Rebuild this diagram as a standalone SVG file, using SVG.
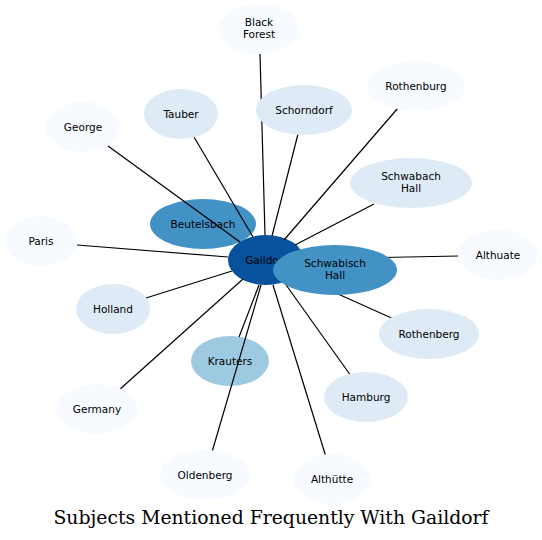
<svg xmlns="http://www.w3.org/2000/svg" width="542" height="540" viewBox="0 0 542 540">
<style>
.n text{font-family:"DejaVu Sans",sans-serif;font-size:10.5px;fill:#000;text-anchor:middle}
.c1 ellipse{fill:#f7fbff}
.c2 ellipse{fill:#deebf7}
.c3 ellipse{fill:#9ecae1}
.c4 ellipse{fill:#4292c6}
.c5 ellipse{fill:#08519c}
#edges line{stroke:#000;stroke-width:1.2}
.title{font-family:"DejaVu Serif",serif;font-size:18px;text-anchor:middle;fill:#000}
</style>
<rect width="542" height="540" fill="#fff"/>
<g id="n-beutelsbach" class="n c4"><ellipse cx="203" cy="224" rx="53" ry="25"/><text x="203" y="228">Beutelsbach</text></g>
<g id="n-krauters" class="n c3"><ellipse cx="230" cy="361" rx="39" ry="25"/><text x="230" y="365">Krauters</text></g>
<g id="n-gaildorf" class="n c5"><ellipse cx="266" cy="260" rx="38" ry="25"/><text x="266" y="264">Gaildorf</text></g>
<g id="edges">
<line x1="260" y1="54" x2="265" y2="235"/>
<line x1="298" y1="134" x2="272" y2="236"/>
<line x1="398" y1="108" x2="284" y2="240"/>
<line x1="194" y1="137" x2="253" y2="237"/>
<line x1="108" y1="146" x2="240" y2="242"/>
<line x1="374" y1="204" x2="295" y2="245"/>
<line x1="77" y1="245" x2="228" y2="257"/>
<line x1="459" y1="256" x2="304" y2="259"/>
<line x1="146" y1="298" x2="232" y2="271"/>
<line x1="396" y1="320" x2="280" y2="268"/>
<line x1="351" y1="376" x2="284" y2="282"/>
<line x1="119" y1="390" x2="243" y2="279"/>
<line x1="239" y1="337" x2="259" y2="285"/>
<line x1="212" y1="452" x2="261" y2="285"/>
<line x1="326" y1="457" x2="273" y2="285"/>
</g>
<g id="n-blackforest" class="n c1"><ellipse cx="259" cy="29" rx="40" ry="25"/><text x="259" y="26">Black</text><text x="259" y="38">Forest</text></g>
<g id="n-rothenburg" class="n c1"><ellipse cx="416" cy="86" rx="49" ry="25"/><text x="416" y="90">Rothenburg</text></g>
<g id="n-schorndorf" class="n c2"><ellipse cx="304" cy="110" rx="48" ry="25"/><text x="304" y="114">Schorndorf</text></g>
<g id="n-tauber" class="n c2"><ellipse cx="181" cy="114" rx="37" ry="25"/><text x="181" y="118">Tauber</text></g>
<g id="n-george" class="n c1"><ellipse cx="83" cy="127" rx="37" ry="25"/><text x="83" y="131">George</text></g>
<g id="n-schwabachhall" class="n c2"><ellipse cx="411" cy="183" rx="61" ry="25"/><text x="411" y="180">Schwabach</text><text x="411" y="192">Hall</text></g>
<g id="n-paris" class="n c1"><ellipse cx="41" cy="241" rx="36" ry="25"/><text x="41" y="245">Paris</text></g>
<g id="n-althuate" class="n c1"><ellipse cx="498" cy="255" rx="40" ry="25"/><text x="498" y="259">Althuate</text></g>
<g id="n-holland" class="n c2"><ellipse cx="113" cy="309" rx="37" ry="25"/><text x="113" y="313">Holland</text></g>
<g id="n-rothenberg" class="n c2"><ellipse cx="429" cy="334" rx="50" ry="25"/><text x="429" y="338">Rothenberg</text></g>
<g id="n-hamburg" class="n c2"><ellipse cx="366" cy="397" rx="42" ry="25"/><text x="366" y="401">Hamburg</text></g>
<g id="n-germany" class="n c1"><ellipse cx="97" cy="409" rx="41" ry="25"/><text x="97" y="413">Germany</text></g>
<g id="n-oldenberg" class="n c1"><ellipse cx="205" cy="475" rx="45" ry="25"/><text x="205" y="479">Oldenberg</text></g>
<g id="n-althuette" class="n c1"><ellipse cx="332" cy="479" rx="38" ry="25"/><text x="332" y="483">Althütte</text></g>
<g id="n-schwabischhall" class="n c4"><ellipse cx="335" cy="270" rx="62" ry="25"/><text x="335" y="267">Schwabisch</text><text x="335" y="279">Hall</text></g>
<text class="title" x="271" y="524" textLength="435" lengthAdjust="spacingAndGlyphs">Subjects Mentioned Frequently With Gaildorf</text>
</svg>
